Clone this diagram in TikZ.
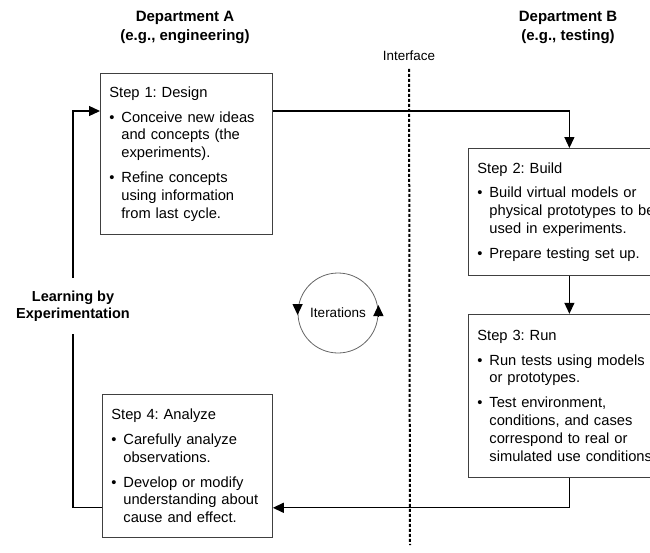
\documentclass[tikz,border=0pt]{standalone}
\usepackage{fontspec}
\setmainfont{Liberation Sans}
\usetikzlibrary{arrows.meta,positioning}
\frenchspacing
\newcommand{\bul}[1]{\par\vspace{7pt}\hangindent=12pt\hangafter=1\noindent\makebox[12pt][l]{\textbullet}#1\par}

\begin{document}
\begin{tikzpicture}[x=1pt,y=1pt,>={Triangle[length=11pt,width=10pt]},
                    line width=1.3pt,every node/.style={text=black}]
  \tikzstyle{stepbox}=[draw=black!75,line width=0.8pt,fill=white,anchor=north west,
                       align=left,inner xsep=9pt,font=\fontsize{14.7}{17.8}\selectfont]
  \tikzstyle{dept}=[align=center,font=\bfseries\fontsize{15}{19}\selectfont]

  \useasboundingbox (0,0) rectangle (650,-552);

  \node[dept] (DA) at (185,-27) {Department A\\(e.g., engineering)};
  \node[dept] (DB) at (568,-27) {Department B\\(e.g., testing)};
  \node[font=\fontsize{13.4}{16}\selectfont] (IF) at (409,-56) {Interface};
  \coordinate (IFend) at (410,-545);

  \node[stepbox,text width=154pt,minimum height=161pt] (S1) at (100,-73)
    {\noindent Step 1: Design
     \bul{Conceive new ideas\newline and concepts (the\newline experiments).}
     \bul{Refine concepts\newline using information\newline from last cycle.}};
  \node[stepbox,text width=184pt,minimum height=127pt] (S2) at (468,-148)
    {\noindent Step 2: Build
     \bul{Build virtual models or\newline physical prototypes to be\newline used in experiments.}
     \bul{Prepare testing set up.}};
  \node[stepbox,text width=184pt,minimum height=163pt] (S3)
       [below=38pt of S2.south west,anchor=north west]
    {\noindent Step 3: Run
     \bul{Run tests using models\newline or prototypes.}
     \bul{Test environment,\newline conditions, and cases\newline correspond to real or\newline simulated use conditions.}};
  \node[stepbox,text width=152pt,minimum height=143pt] (S4) at (102,-394)
    {\noindent Step 4: Analyze
     \bul{Carefully analyze\newline observations.}
     \bul{Develop or modify\newline understanding about\newline cause and effect.}};

  \node[align=center,inner ysep=12pt,font=\bfseries\fontsize{14.5}{17}\selectfont] (L)
       at (73,-306) {Learning by\\Experimentation};

  \node[circle,draw=black!60,line width=0.8pt,minimum size=80pt,
        font=\fontsize{13.5}{16}\selectfont] (IT) at (338,-313) {Iterations};

  % interface line
  \draw[line width=2pt,dash pattern=on 3pt off 2pt] ([yshift=-4pt]IF.south) -- (IFend);

  % steps
  \draw[->] ([yshift=-38pt]S1.north east) -| (S2.north);
  \draw[->] (S2.south) -- (S3.north);
  \draw[->] (S3.south) |- ([yshift=30pt]S4.south east);
  \draw ([yshift=30pt]S4.south west) -| (L.south);
  \draw[->] (L.north) |- ([yshift=-38pt]S1.north west);

  % iteration arrows
  \draw[->] ([yshift=9pt]IT.west) -- ([yshift=-2pt]IT.west);
  \draw[->] ([yshift=-3pt]IT.east) -- ([yshift=8pt]IT.east);
\end{tikzpicture}
\end{document}
